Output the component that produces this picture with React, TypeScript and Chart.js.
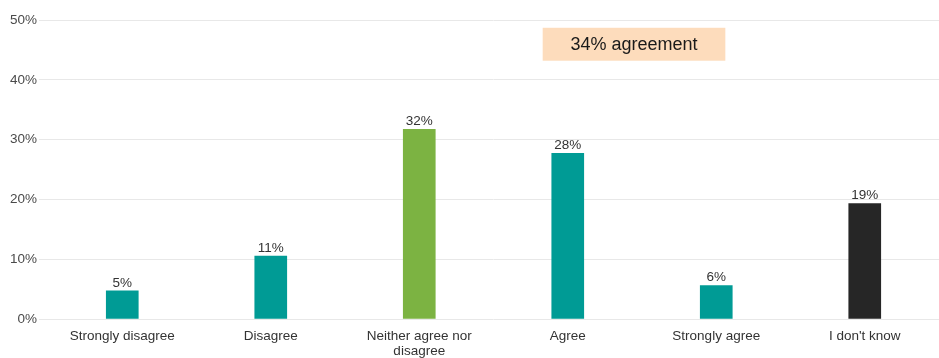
import React, { useEffect, useRef } from "react";
import { Chart, registerables } from "chart.js";

Chart.register(...registerables);

const categories: (string | string[])[] = [
  "Strongly disagree",
  "Disagree",
  ["Neither agree nor", "disagree"],
  "Agree",
  "Strongly agree",
  "I don't know",
];
const values = [4.8, 10.6, 31.8, 27.8, 5.7, 19.4];
const valueLabels = ["5%", "11%", "32%", "28%", "6%", "19%"];
const barColors = ["#009B95", "#009B95", "#7CB342", "#009B95", "#009B95", "#262626"];
const yTicks = [0, 10, 20, 30, 40, 50];
const annotationText = "34% agreement";
const annotationCenter = 3.5; // category position (between Agree and Strongly agree)
const annotationTop = 48.7;
const annotationBottom = 43.2;

const FONT = "'Liberation Sans', Arial, sans-serif";

const valueLabelPlugin = {
  id: "valueLabels",
  afterDatasetsDraw(chart: any) {
    const ctx = chart.ctx;
    const meta = chart.getDatasetMeta(0);
    ctx.save();
    ctx.font = `13.5px ${FONT}`;
    ctx.fillStyle = "#333333";
    ctx.textAlign = "center";
    ctx.textBaseline = "bottom";
    meta.data.forEach((bar: any, i: number) => {
      ctx.fillText(valueLabels[i], bar.x, bar.y - 1);
    });
    ctx.restore();
  },
};

const annotationPlugin = {
  id: "agreementBox",
  afterDatasetsDraw(chart: any) {
    const ctx = chart.ctx;
    const xs = chart.scales.x;
    const ys = chart.scales.y;
    const step = xs.getPixelForValue(1) - xs.getPixelForValue(0);
    const cx = xs.getPixelForValue(3) + step * (annotationCenter - 3) - 8;
    const w = step * 1.23;
    const top = ys.getPixelForValue(annotationTop);
    const bottom = ys.getPixelForValue(annotationBottom);
    ctx.save();
    ctx.fillStyle = "#FDDCBC";
    ctx.fillRect(cx - w / 2, top, w, bottom - top);
    ctx.font = `18px ${FONT}`;
    ctx.fillStyle = "#1a1a1a";
    ctx.textAlign = "center";
    ctx.textBaseline = "middle";
    ctx.fillText(annotationText, cx, (top + bottom) / 2 + 1);
    ctx.restore();
  },
};

export default function App() {
  const ref = useRef<HTMLCanvasElement>(null);
  useEffect(() => {
    if (!ref.current) return;
    const chart = new Chart(ref.current, {
      type: "bar",
      data: {
        labels: categories,
        datasets: [
          {
            data: values,
            backgroundColor: barColors,
            barPercentage: 0.22,
            categoryPercentage: 1,
          },
        ],
      },
      options: {
        animation: false,
        responsive: false,
        maintainAspectRatio: false,
        layout: { padding: { top: 20, right: 0, left: 8, bottom: -11 } },
        plugins: { legend: { display: false }, tooltip: { enabled: false } },
        scales: {
          x: {
            grid: { display: false, drawTicks: false },
            border: { display: false },
            ticks: {
              color: "#333333",
              font: { family: FONT, size: 13.5, lineHeight: 1.1 },
              padding: 10,
              maxRotation: 0,
              autoSkip: false,
            },
          },
          y: {
            min: 0,
            max: 50,
            afterBuildTicks: (axis: any) => {
              axis.ticks = yTicks.map((v) => ({ value: v }));
            },
            grid: { color: "#e8e8e8", tickLength: 9, tickColor: "#e8e8e8" },
            border: { display: false },
            ticks: {
              color: "#4a4a4a",
              font: { family: FONT, size: 13.5 },
              padding: 2,
              callback: (v: any) => `${v}%`,
            },
          },
        },
      },
      plugins: [valueLabelPlugin, annotationPlugin],
    });
    return () => chart.destroy();
  }, []);
  return (
    <div style={{ position: "fixed", left: 0, top: 0, width: 939, height: 358, background: "#fff" }}>
      <canvas ref={ref} width={939} height={358} style={{ width: 939, height: 358 }} />
    </div>
  );
}
